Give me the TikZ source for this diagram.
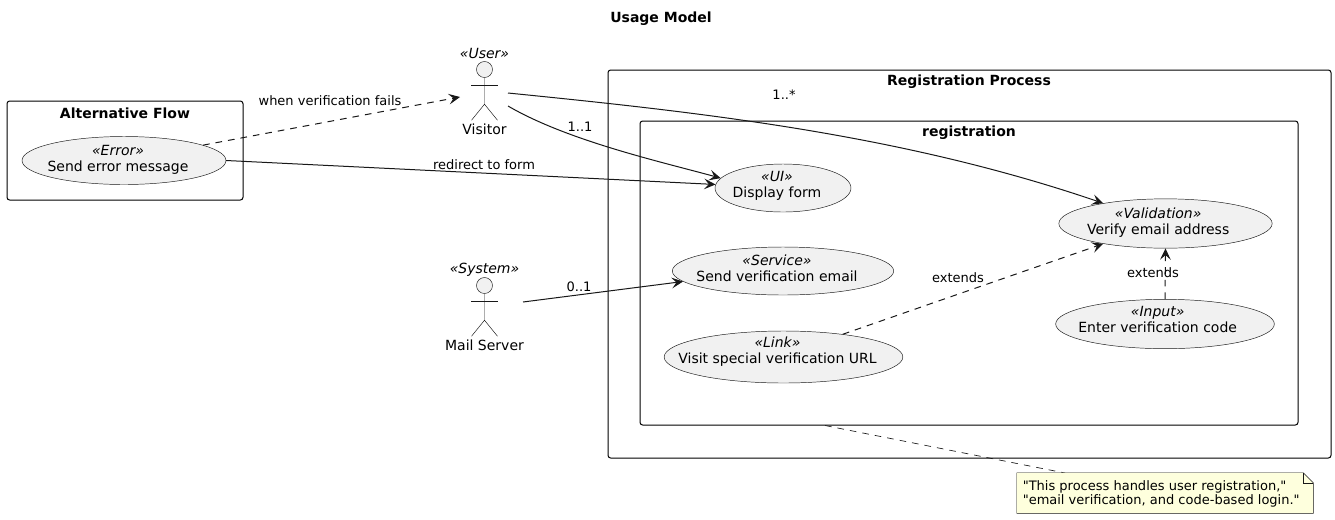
\documentclass[tikz,border=0pt]{standalone}
\usepackage{fontspec}
\setmainfont{DejaVu Sans}
\newfontfamily\notefont{DejaVu Sans}
\usetikzlibrary{fit}
\usetikzlibrary{shapes.geometric}
\usetikzlibrary{arrows.meta}
\definecolor{casefill}{HTML}{F1F1F1}
\definecolor{casedraw}{HTML}{181818}
\definecolor{notefill}{HTML}{FEFFDD}
\newcommand{\casetext}[4][9pt]{\raisebox{#4}[0pt][0pt]{\makebox[0pt]{\hspace*{-#1}\begin{tabular}{@{}c@{}}\textit{«#2»}\\[0pt]#3\end{tabular}}}}

\begin{document}
\begin{tikzpicture}[x=0.75pt,y=-0.75pt,font=\fontsize{10.5}{12}\selectfont]

\tikzstyle{frame}=[draw=black, rounded corners=2pt, line width=0.75pt, inner sep=0pt]
\tikzstyle{frametitle}=[font=\fontsize{10.5}{12}\selectfont\bfseries, inner sep=0pt]
\tikzstyle{usecase}=[draw=casedraw, fill=casefill, ellipse, inner sep=0pt, line width=0.35pt]
\tikzstyle{actorline}=[draw=casedraw, line width=0.35pt]
\tikzstyle{edgetext}=[font=\fontsize{9.75}{12}\selectfont, inner sep=0pt]
\tikzstyle{flow}=[draw=casedraw, line width=0.75pt, -{Stealth[length=8.5pt,width=8pt,inset=3.5pt]}]
\tikzstyle{dep}=[flow, dash pattern=on 5pt off 4.5pt]

\useasboundingbox (0,0) rectangle (1335,519);

\node[frametitle] (title) at (661,19) {Usage Model};

% frames
\node[frame, fit={(7,101)(243,200)}] (altflow) {};
\node[frame, fit={(608,70)(1331,458)}] (regprocess) {};
\node[frame, fit={(640,121)(1298,425)}] (registration) {};
\node[frametitle] (altflowtitle) at (125,113) {Alternative Flow};
\node[frametitle] (regprocesstitle) at (969,82) {Registration Process};
\node[frametitle] (registrationtitle) at (969,133) {registration};

% use cases
\node[usecase, minimum width=153pt, minimum height=36pt] (senderror) at (124,160.5) {\casetext{Error}{Send error message}{-2.7pt}};
\node[usecase, minimum width=102pt, minimum height=36pt] (displayform) at (783,188) {\casetext{UI}{Display form}{-1.5pt}};
\node[usecase, minimum width=166pt, minimum height=36pt] (sendmail) at (783,271) {\casetext{Service}{Send verification email}{-2pt}};
\node[usecase, minimum width=179pt, minimum height=39pt] (visiturl) at (783.5,357) {\casetext{Link}{Visit special verification URL}{0.5pt}};
\node[usecase, minimum width=160pt, minimum height=37pt] (verifymail) at (1165.5,223.5) {\casetext[11pt]{Validation}{Verify email address}{-2.7pt}};
\node[usecase, minimum width=164pt, minimum height=37pt] (entercode) at (1165,324) {\casetext[11pt]{Input}{Enter verification code}{-1pt}};

% actors
\foreach \actorname/\ax/\ay/\stereo/\actorlabel in {visitor/484.5/69.5/User/Visitor, mail/484.5/285.5/System/Mail Server} {
	\node[actorline, fill=casefill, circle, minimum size=12pt, inner sep=0pt] (\actorname) at (\ax,\ay) {};
	\draw[actorline] (\actorname.south) -- ++(0,26.5) -- ++(-13,16) ++(13,-16) -- ++(13,16);
	\draw[actorline] ([xshift=-10pt,yshift=-5.5pt]\actorname.south) -- ([xshift=10pt,yshift=-5.5pt]\actorname.south);
	\node[inner sep=0pt] (\actorname stereo) at (\ax,\ay-16) {\textit{«\stereo»}};
	\node[inner sep=0pt] (\actorname label) at (\ax,\ay+59.5) {\actorlabel};
}
\coordinate (visitorupper) at (508,93);
\coordinate (visitorlower) at (508,106);
\coordinate (visitorin) at (460,97);
\coordinate (mailout) at (523,302);

% connectors
\draw[flow] (visitorupper) .. controls (708,113) and (903,135) .. (verifymail.162);
\draw[flow] (visitorlower) .. controls (568,141) and (662,162) .. (displayform.171);
\draw[flow] (senderror.0) -- (displayform.177);
\draw[flow] (mailout) -- (sendmail.186);
\draw[dep] (senderror.11) -- (visitorin);
\draw[dep] (visiturl.21) -- (verifymail.198);
\draw[dep] (entercode.north) -- (verifymail.south);
\draw[draw=casedraw, line width=0.5pt, dash pattern=on 5pt off 4.5pt] (registration.south -| 825,0) coordinate (regfoot) -- (1065,473) coordinate (notefoot);

% labels
\node[edgetext] (failtext) at (330,101) {when verification fails};
\node[edgetext] (redirecttext) at (484,165) {redirect to form};
\node[edgetext] (onetext) at (580,127) {1..1};
\node[edgetext] (manytext) at (784,95) {1..*};
\node[edgetext] (zerotext) at (579,287) {0..1};
\node[edgetext] (extendstext) at (958,278) {extends};
\node[edgetext] (extendstexttwo) at (1153,273) {extends};

% note
\node[inner sep=0pt, fit={(1017,473)(1313,513)}] (note) {};
\draw[draw=casedraw, line width=0.35pt, fill=notefill] (note.north west) -- ([xshift=-7.5pt]note.north east) -- ([yshift=-7.5pt]note.north east) -- (note.south east) -- (note.south west) -- cycle;
\draw[draw=casedraw, line width=0.35pt] ([xshift=-7.5pt]note.north east) -- ([xshift=-7.5pt,yshift=-7.5pt]note.north east) -- ([yshift=-7.5pt]note.north east);
\node[inner sep=0pt, font=\fontsize{9.75}{11}\selectfont\notefont, align=left, anchor=west] (notetext) at (1022.5,494) {"This process handles user registration,"\\"email verification, and code-based login."};

\end{tikzpicture}
\end{document}
